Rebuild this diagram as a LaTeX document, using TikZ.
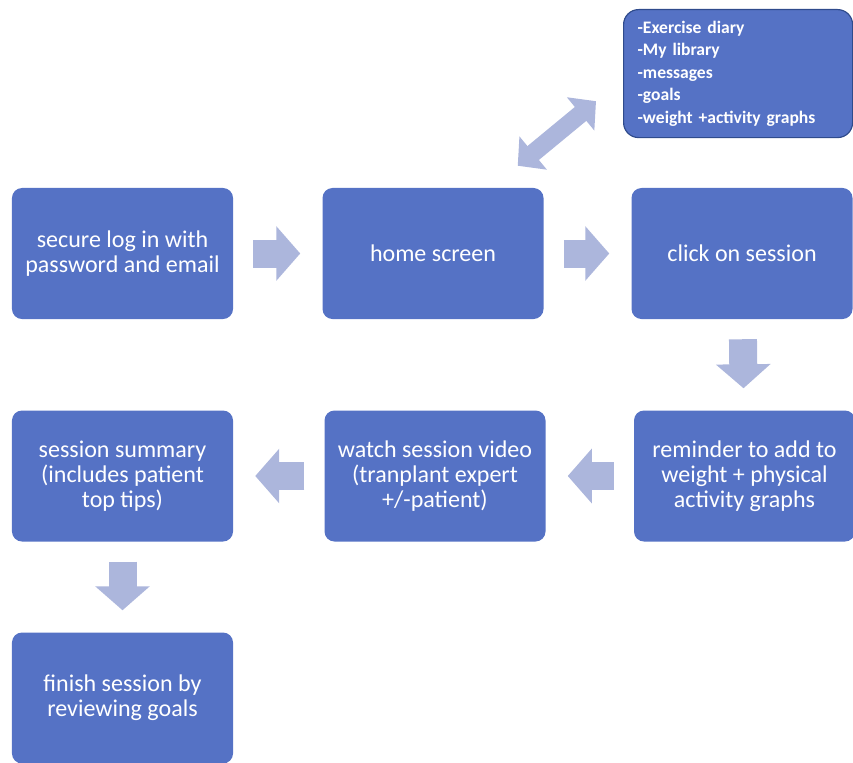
\documentclass[tikz,border=0pt]{standalone}
\usepackage{fontspec}
\setmainfont{Carlito}
\usetikzlibrary{arrows.meta}
\definecolor{boxblue}{RGB}{85,114,197}
\definecolor{arrowblue}{RGB}{172,182,220}
\definecolor{edgeblue}{RGB}{47,75,140}

\begin{document}
\begin{tikzpicture}[x=0.03cm,y=-0.03cm,stage/.style={rectangle,rounded corners=0.3cm,fill=boxblue,text=white,minimum width=6.63cm,minimum height=3.93cm,inner sep=0pt,align=center,font=\fontsize{20.5}{21.4}\selectfont},menu/.style={rectangle,rounded corners=0.45cm,fill=boxblue,draw=edgeblue,line width=1pt,text=white,text width=6.03cm,minimum height=3.84cm,inner xsep=0.42cm,align=left,font=\bfseries\fontsize{15}{19.2}\selectfont},flow/.style={draw=arrowblue,line width=0.84cm,shorten <=0.6cm,shorten >=0.66cm,-{Triangle[length=0.72cm,width=1.6cm]}},link/.style={draw=arrowblue,line width=0.54cm,{Triangle[length=0.6cm,width=1.26cm]}-{Triangle[length=0.6cm,width=1.26cm]}}]
\useasboundingbox (0,0) rectangle (853,762);
\coordinate (L) at (122.5,253.5);
\coordinate (H) at (433,253.5);
\coordinate (C) at (742,253.5);
\coordinate (R) at (744.5,476);
\coordinate (W) at (435,476);
\coordinate (S) at (122.5,476);
\coordinate (F) at (122.5,698);
\node[stage] (login) at (L) {secure log in with\\password and email};
\node[stage] (home) at (H) {home screen};
\node[stage] (click) at (C) {click on session};
\node[stage] (reminder) at (R) {reminder to add to\\weight + physical\\activity graphs};
\node[stage] (watch) at (W) {watch session video\\(tranplant expert\\+/-patient)};
\node[stage] (summary) at (S) {session summary\\(includes patient\\top tips)};
\node[stage] (finish) at (F) {finish session by\\reviewing goals};
\node[menu,anchor=north west] (list) at (623,9) {-Exercise diary\\-My library\\-messages\\-goals\\-weight +activity graphs};
\draw[flow] (login) -- (home);
\draw[flow] (home) -- (click);
\draw[flow] (click) -- (reminder);
\draw[flow] (reminder) -- (watch);
\draw[flow] (watch) -- (summary);
\draw[flow] (summary) -- (finish);
\draw[link] ([shift={(-26,-22)}]home.north east) -- ([shift={(-27,-37)}]list.south west);
\end{tikzpicture}
\end{document}
